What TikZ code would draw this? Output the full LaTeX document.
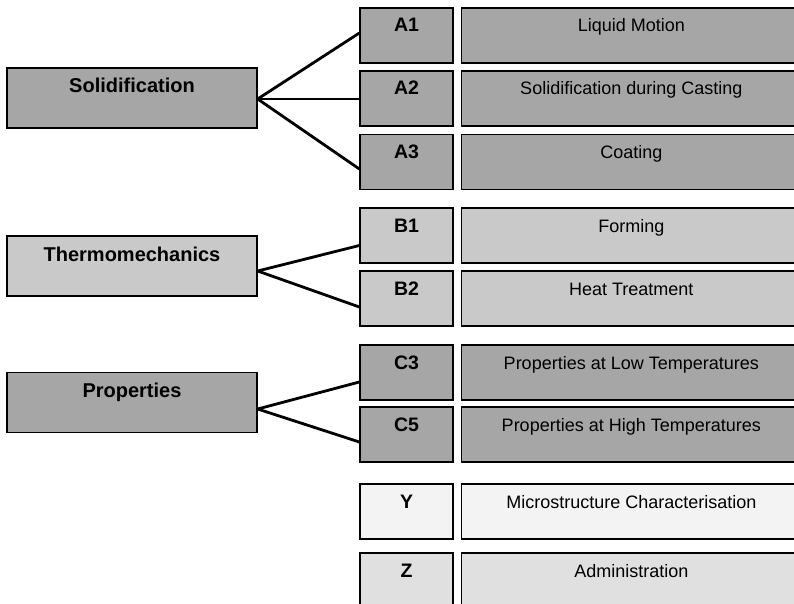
\documentclass[tikz,border=0pt]{standalone}
\usepackage{fontspec}
\setmainfont{Liberation Sans}
\usetikzlibrary{positioning}
\definecolor{darkgrey}{HTML}{A6A6A6}
\definecolor{midgrey}{HTML}{C9C9C9}
\definecolor{palegrey}{HTML}{F3F3F3}
\definecolor{softgrey}{HTML}{E0E0E0}

\begin{document}
\begin{tikzpicture}[x=1pt, y=-1pt,
    groupbox/.style={draw, line width=1.3pt, minimum width=250pt, minimum height=60pt, inner sep=0pt,
                     text height=15pt, text depth=25pt, font=\fontsize{20}{24}\selectfont\bfseries},
    codebox/.style={draw, line width=1.3pt, minimum width=93pt, minimum height=55pt, inner sep=0pt,
                    text height=14pt, text depth=21pt, font=\fontsize{19.5}{22}\selectfont\bfseries},
    topicbox/.style={draw, line width=1.3pt, minimum width=340pt, minimum height=55pt, inner sep=0pt,
                     text height=14pt, text depth=21pt, font=\fontsize{18}{22}\selectfont},
    link/.style={line width=2.8pt}
]
\clip (0,0) rectangle (794,604);

% Research areas on the left
\node[groupbox, fill=darkgrey] (solid) at (132,98) {Solidification};
\node[groupbox, fill=midgrey] (thermo) at (132,266) {Thermomechanics};
\node[groupbox, fill=darkgrey] (props) at (132,402.5) {Properties};

% Work package codes, topics placed right of them
\node[codebox, fill=darkgrey] (A1) at (406.5,35.5) {A1};
\node[topicbox, fill=darkgrey, right=7pt of A1] (tA1) {Liquid Motion};
\node[codebox, fill=darkgrey] (A2) at (406.5,98.5) {A2};
\node[topicbox, fill=darkgrey, right=7pt of A2] (tA2) {Solidification during Casting};
\node[codebox, fill=darkgrey] (A3) at (406.5,162) {A3};
\node[topicbox, fill=darkgrey, right=7pt of A3] (tA3) {Coating};

\node[codebox, fill=midgrey] (B1) at (406.5,235.5) {B1};
\node[topicbox, fill=midgrey, right=7pt of B1] (tB1) {Forming};
\node[codebox, fill=midgrey] (B2) at (406.5,298.5) {B2};
\node[topicbox, fill=midgrey, right=7pt of B2] (tB2) {Heat Treatment};

\node[codebox, fill=darkgrey] (C3) at (406.5,372.5) {C3};
\node[topicbox, fill=darkgrey, right=7pt of C3] (tC3) {Properties at Low Temperatures};
\node[codebox, fill=darkgrey] (C5) at (406.5,434.5) {C5};
\node[topicbox, fill=darkgrey, right=7pt of C5] (tC5) {Properties at High Temperatures};

\node[codebox, fill=palegrey] (Y) at (406.5,511.5) {Y};
\node[topicbox, fill=palegrey, right=7pt of Y] (tY) {Microstructure Characterisation};
\node[codebox, fill=softgrey] (Z) at (406.5,580.5) {Z};
\node[topicbox, fill=softgrey, right=7pt of Z] (tZ) {Administration};

% Links from areas to codes
\draw[link] ([yshift=-1pt]solid.east) -- ([yshift=2.5pt]A1.west);
\draw[link] ([yshift=-1pt]solid.east) -- ([yshift=-0.5pt]A2.west);
\draw[link] ([yshift=-1pt]solid.east) -- ([yshift=-7pt]A3.west);
\draw[link] ([yshift=-5pt]thermo.east) -- ([yshift=-10pt]B1.west);
\draw[link] ([yshift=-5pt]thermo.east) -- ([yshift=-8.5pt]B2.west);
\draw[link] ([yshift=-6.5pt]props.east) -- ([yshift=-9.5pt]C3.west);
\draw[link] ([yshift=-6.5pt]props.east) -- ([yshift=-7.5pt]C5.west);
\end{tikzpicture}
\end{document}
